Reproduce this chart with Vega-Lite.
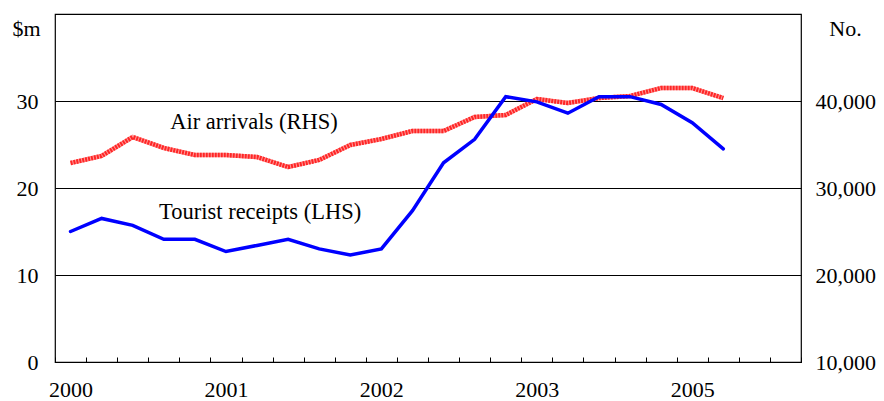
{
  "$schema": "https://vega.github.io/schema/vega-lite/v6.json",
  "width": 746,
  "height": 348,
  "autosize": {"type": "none"},
  "padding": {"left": 55, "top": 14, "right": 83, "bottom": 39},
  "background": "white",
  "config": {
    "font": "Liberation Serif",
    "view": {"stroke": "#000000", "strokeWidth": 1.2},
    "axis": {"labelFont": "Liberation Serif", "titleFont": "Liberation Serif", "labelColor": "#000000", "titleColor": "#000000", "labelFontSize": 22, "titleFontSize": 22, "titleFontWeight": "normal"}
  },
  "datasets": {
    "series": [
      {"quarter": "2000 Q1", "i": 0, "receipts": 15.0, "arrivals": 32870},
      {"quarter": "2000 Q2", "i": 1, "receipts": 16.5, "arrivals": 33680},
      {"quarter": "2000 Q3", "i": 2, "receipts": 15.7, "arrivals": 35860},
      {"quarter": "2000 Q4", "i": 3, "receipts": 14.1, "arrivals": 34600},
      {"quarter": "2001 Q1", "i": 4, "receipts": 14.1, "arrivals": 33790},
      {"quarter": "2001 Q2", "i": 5, "receipts": 12.7, "arrivals": 33790},
      {"quarter": "2001 Q3", "i": 6, "receipts": 13.4, "arrivals": 33560},
      {"quarter": "2001 Q4", "i": 7, "receipts": 14.1, "arrivals": 32410},
      {"quarter": "2002 Q1", "i": 8, "receipts": 13.0, "arrivals": 33220},
      {"quarter": "2002 Q2", "i": 9, "receipts": 12.3, "arrivals": 34940},
      {"quarter": "2002 Q3", "i": 10, "receipts": 13.0, "arrivals": 35630},
      {"quarter": "2002 Q4", "i": 11, "receipts": 17.4, "arrivals": 36550},
      {"quarter": "2003 Q1", "i": 12, "receipts": 22.9, "arrivals": 36550},
      {"quarter": "2003 Q2", "i": 13, "receipts": 25.6, "arrivals": 38160},
      {"quarter": "2003 Q3", "i": 14, "receipts": 30.5, "arrivals": 38390},
      {"quarter": "2003 Q4", "i": 15, "receipts": 29.9, "arrivals": 40230},
      {"quarter": "2004 Q1", "i": 16, "receipts": 28.6, "arrivals": 39770},
      {"quarter": "2004 Q2", "i": 17, "receipts": 30.5, "arrivals": 40340},
      {"quarter": "2004 Q3", "i": 18, "receipts": 30.5, "arrivals": 40570},
      {"quarter": "2004 Q4", "i": 19, "receipts": 29.6, "arrivals": 41490},
      {"quarter": "2005 Q1", "i": 20, "receipts": 27.5, "arrivals": 41490},
      {"quarter": "2005 Q2", "i": 21, "receipts": 24.5, "arrivals": 40340}
    ],
    "notes": [
      {"label": "Air arrivals (RHS)", "i": 5.9, "v": 27.6},
      {"label": "Tourist receipts (LHS)", "i": 6.1, "v": 17.2}
    ]
  },
  "layer": [
    {
      "data": {"name": "series"},
      "encoding": {
        "x": {
          "field": "i", "type": "quantitative",
          "scale": {"domain": [-0.5, 23.5], "nice": false, "zero": false},
          "axis": {
            "title": null, "grid": false, "domain": true, "domainColor": "#000000", "domainWidth": 1.2,
            "values": [-0.5, 0.5, 1.5, 2.5, 3.5, 4.5, 5.5, 6.5, 7.5, 8.5, 9.5, 10.5, 11.5, 12.5, 13.5, 14.5, 15.5, 16.5, 17.5, 18.5, 19.5, 20.5, 21.5, 22.5, 23.5],
            "tickCount": 100,
            "ticks": true, "tickColor": "#000000", "tickSize": -5, "tickWidth": 1,
            "labelExpr": "datum.value == -0.5 ? '2000' : datum.value == 4.5 ? '2001' : datum.value == 9.5 ? '2002' : datum.value == 14.5 ? '2003' : datum.value == 19.5 ? '2005' : ''",
            "labelOffset": 15.5, "labelPadding": 22, "labelAlign": "center", "labelBaseline": "top",
            "labelOverlap": false, "labelBound": false, "labelFlush": false
          }
        },
        "y": {
          "field": "arrivals", "type": "quantitative",
          "scale": {"domain": [10000, 50000], "nice": false, "zero": false},
          "axis": {
            "orient": "right", "values": [10000, 20000, 30000, 40000], "format": ",d", "tickCount": 100,
            "grid": false, "ticks": false, "domain": false, "labelPadding": 14, "labelAlign": "left",
            "title": "No.", "titleAngle": 0, "titleX": 44, "titleY": 14, "titleAlign": "center", "titleBaseline": "middle"
          }
        }
      },
      "layer": [
        {"mark": {"type": "line", "color": "#ff9a9a", "strokeWidth": 4.5, "strokeCap": "butt"}},
        {"mark": {"type": "line", "color": "#ff2626", "strokeWidth": 4.5, "strokeCap": "butt", "strokeDash": [2, 1]}}
      ]
    },
    {
      "layer": [
        {
          "data": {"name": "series"},
          "mark": {"type": "line", "color": "#0000ff", "strokeWidth": 3.5, "strokeCap": "round", "strokeJoin": "miter"},
          "encoding": {
            "x": {"field": "i", "type": "quantitative"},
            "y": {
              "field": "receipts", "type": "quantitative",
              "scale": {"domain": [0, 40], "nice": false},
              "axis": {
                "orient": "left", "values": [0, 10, 20, 30], "format": "d", "tickCount": 100, "grid": true, "gridColor": "#000000", "gridWidth": 1, "gridOpacity": 1,
                "ticks": false, "domain": false, "labelPadding": 17, "labelAlign": "right",
                "title": "$m", "titleAngle": 0, "titleX": -29, "titleY": 14, "titleAlign": "center", "titleBaseline": "middle"
              }
            }
          }
        },
        {
          "data": {"name": "notes"},
          "mark": {"type": "text", "font": "Liberation Serif", "fontSize": 22.5, "color": "#000000", "align": "center", "baseline": "middle"},
          "encoding": {
            "x": {"field": "i", "type": "quantitative"},
            "y": {"field": "v", "type": "quantitative"},
            "text": {"field": "label"}
          }
        }
      ]
    }
  ],
  "resolve": {"scale": {"y": "independent"}, "axis": {"y": "independent"}}
}
